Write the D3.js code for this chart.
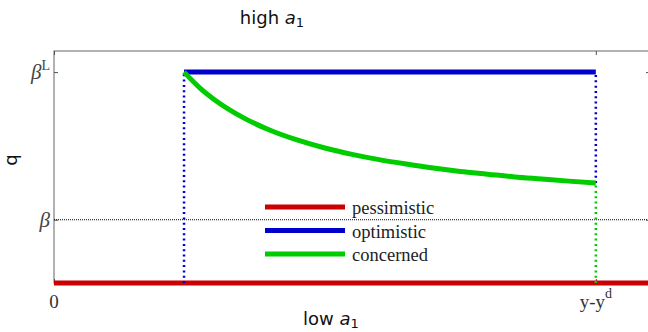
<!DOCTYPE html>
<html>
<head>
<meta charset="utf-8">
<script src="https://cdn.jsdelivr.net/npm/d3@7"></script>
<style>
  html, body { margin: 0; padding: 0; background: #fff; }
  svg { display: block; }
</style>
</head>
<body>
<svg id="chart" width="648" height="332"></svg>
<script>
// Regime bounds on the horizontal axis (0 and y - y^d) and levels on q
const xTicks = [0, 1];
const xTickLabels = [{ base: "0", sup: "" }, { base: "y-y", sup: "d" }];
const yTicks = [0.3, 1];
const yTickLabels = [{ base: "β", sup: "" }, { base: "β", sup: "L" }];

// Series
const pessimisticX = [0, 1.1];
const pessimisticY = [0, 0];
const optimisticX = [0.24, 1];
const optimisticY = [1, 1];
const concernedX = [0.24, 0.27, 0.30, 0.35, 0.40, 0.45, 0.50, 0.55, 0.60, 0.65, 0.70, 0.75, 0.80, 0.85, 0.90, 0.95, 1.0];
const concernedY = [1.0, 0.923, 0.862, 0.783, 0.723, 0.677, 0.640, 0.610, 0.585, 0.564, 0.545, 0.529, 0.516, 0.503, 0.493, 0.483, 0.474];

const seriesNames = ["pessimistic", "optimistic", "concerned"];
const seriesColors = ["#cc0000", "#0000cc", "#00cc00"];

const svg = d3.select("#chart");
const W = 648, H = 332;
const margin = { left: 54, top: 51, right: -2, bottom: 49 };

const x = d3.scaleLinear().domain([0, 1.1]).range([margin.left, W - margin.right]);
const y = d3.scaleLinear().domain([0, 1.1]).range([H - margin.bottom, margin.top]);

const serif = "'Liberation Serif', 'Times New Roman', serif";
const sans = "'DejaVu Sans', 'Open Sans', sans-serif";

const zip = (xs, ys) => xs.map((v, i) => [v, ys[i]]);
const line = d3.line().x(d => x(d[0])).y(d => y(d[1]));
const smooth = d3.line().x(d => x(d[0])).y(d => y(d[1])).curve(d3.curveMonotoneX);

// Frame
svg.append("rect")
  .attr("x", x(0)).attr("y", y(1.1))
  .attr("width", x(1.1) - x(0)).attr("height", y(0) - y(1.1))
  .attr("fill", "none").attr("stroke", "#666").attr("stroke-width", 1);

// Inward ticks on all four sides
function tickStyle(g) {
  g.select(".domain").remove();
  g.selectAll(".tick line").attr("stroke", "#555").attr("stroke-width", 1);
  g.selectAll(".tick text").remove();
}
svg.append("g").attr("transform", `translate(${x(0)},0)`)
  .call(d3.axisLeft(y).tickValues(yTicks).tickSize(-4)).call(tickStyle);
svg.append("g").attr("transform", `translate(${x(1.1)},0)`)
  .call(d3.axisRight(y).tickValues(yTicks).tickSize(-4)).call(tickStyle);
svg.append("g").attr("transform", `translate(0,${y(1.1)})`)
  .call(d3.axisTop(x).tickValues(xTicks).tickSize(-4)).call(tickStyle);
svg.append("g").attr("transform", `translate(0,${y(0)})`)
  .call(d3.axisBottom(x).tickValues(xTicks).tickSize(-4)).call(tickStyle);

// Tick labels with superscripts
yTicks.forEach((v, i) => {
  const t = svg.append("text")
    .attr("x", x(0) - 4).attr("y", y(v) + 7)
    .attr("text-anchor", "end")
    .attr("font-family", serif).attr("font-size", 21).attr("fill", "#444");
  t.append("tspan").attr("font-style", "italic").text(yTickLabels[i].base);
  if (yTickLabels[i].sup) {
    t.append("tspan").attr("dy", -9).attr("font-size", 14).text(yTickLabels[i].sup);
  }
});
xTicks.forEach((v, i) => {
  const t = svg.append("text")
    .attr("x", x(v)).attr("y", y(0) + 25)
    .attr("text-anchor", "middle")
    .attr("font-family", serif).attr("font-size", 19).attr("fill", "#333");
  t.append("tspan").text(xTickLabels[i].base);
  if (xTickLabels[i].sup) {
    t.append("tspan").attr("dy", -10).attr("font-size", 14).text(xTickLabels[i].sup);
  }
});

// Reference level beta
svg.append("path")
  .attr("d", line([[0, yTicks[0]], [1.1, yTicks[0]]]))
  .attr("stroke", "#000").attr("stroke-width", 1).attr("stroke-dasharray", "1,1")
  .attr("fill", "none");

// Pessimistic
svg.append("path")
  .attr("d", line(zip(pessimisticX, pessimisticY)))
  .attr("stroke", seriesColors[0]).attr("stroke-width", 5).attr("fill", "none");

// Dotted regime boundaries
const qEnd = concernedY[concernedY.length - 1];
const xEnd = concernedX[concernedX.length - 1];
const dotted = [
  { pts: [[optimisticX[0], 0], [optimisticX[0], optimisticY[0]]], color: seriesColors[1] },
  { pts: [[optimisticX[1], qEnd], [optimisticX[1], optimisticY[1]]], color: seriesColors[1] },
  { pts: [[xEnd, 0], [xEnd, qEnd]], color: seriesColors[2] }
];
dotted.forEach(d => {
  svg.append("path").attr("d", line(d.pts))
    .attr("stroke", d.color).attr("stroke-width", 2.5)
    .attr("stroke-dasharray", "2,3.3").attr("fill", "none");
});

// Optimistic
svg.append("path")
  .attr("d", line(zip(optimisticX, optimisticY)))
  .attr("stroke", seriesColors[1]).attr("stroke-width", 5).attr("fill", "none");

// Concerned
svg.append("path")
  .attr("d", smooth(zip(concernedX, concernedY)))
  .attr("stroke", seriesColors[2]).attr("stroke-width", 5).attr("fill", "none");

// Legend
const legend = svg.append("g");
seriesNames.forEach((name, i) => {
  const ly = 207 + i * 23.5;
  legend.append("line")
    .attr("x1", 265).attr("x2", 345).attr("y1", ly).attr("y2", ly)
    .attr("stroke", seriesColors[i]).attr("stroke-width", 5);
  legend.append("text")
    .attr("x", 352).attr("y", ly + 7)
    .attr("font-family", serif).attr("font-size", 18.5).attr("fill", "#222")
    .text(name);
});

// Title and axis labels
function mathLabel(cx, cy, word) {
  const t = svg.append("text")
    .attr("x", cx).attr("y", cy).attr("text-anchor", "middle")
    .attr("font-family", sans).attr("font-size", 18).attr("fill", "#111");
  t.append("tspan").text(word + " ");
  t.append("tspan").attr("font-style", "italic").text("a");
  t.append("tspan").attr("dy", 3).attr("font-size", 13).text("1");
}
mathLabel(272, 24, "high");
mathLabel(331, 325, "low");

svg.append("text")
  .attr("transform", `translate(17,160) rotate(-90)`)
  .attr("text-anchor", "middle")
  .attr("font-family", sans).attr("font-size", 18).attr("fill", "#111")
  .text("q");
</script>
</body>
</html>
